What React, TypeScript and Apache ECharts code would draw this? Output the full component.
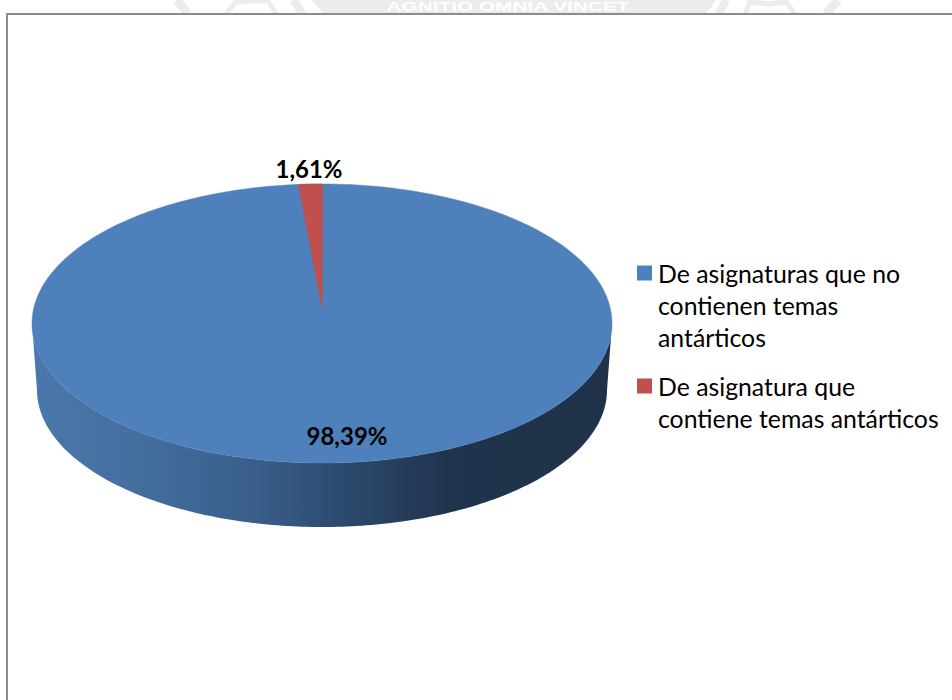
import React, { useEffect, useRef } from "react";
import * as echarts from "echarts";

const categories = [
  "De asignaturas que no contienen temas antárticos",
  "De asignatura que contiene temas antárticos",
];
const legendLines = [
  ["De asignaturas que no", "contienen temas", "antárticos"],
  ["De asignatura que", "contiene temas antárticos"],
];
const values = [98.39, 1.61];
const valueLabels = ["98,39%", "1,61%"];
const colors = ["#4e80bc", "#c0504d"];
const watermarkText = "AGNITIO OMNIA VINCET";

const FONT = "Lato, Carlito, Calibri, sans-serif";
const CX = 322;
const TOP_CY = 323.5;
const RX = 290;
const RY = 139.5;
const APEX_Y = 308;
const BOT_CY = 390;
const BOT_RX = 285;
const BOT_RY = 137;
const BACK_FORESHORTEN = 0.9;

const K = (TOP_CY + RY - APEX_Y - (APEX_Y - (TOP_CY - RY))) / (TOP_CY + RY - APEX_Y + (APEX_Y - (TOP_CY - RY)));
const B = (APEX_Y - (TOP_CY - RY)) * (1 + K);
const A = RX * Math.sqrt(1 - K * K);

// map an angle measured clockwise from the top of the disc onto the tilted disc
function project(theta: number): number[] {
  const u = Math.sin(theta);
  const v = Math.cos(theta);
  const d = 1 + K * v;
  return [CX + (A * u) / d, APEX_Y - (B * v) / d];
}

function sliceRange(index: number): [number, number] {
  const total = values.reduce((a, b) => a + b, 0);
  // the small slice ends at the top of the disc; the big one starts there
  if (index === 1) return [-(values[1] / total) * 2 * Math.PI * BACK_FORESHORTEN, 0.002];
  return [0, (values[0] / total) * 2 * Math.PI];
}

function renderSlice(index: number) {
  return () => {
    const [a0, a1] = sliceRange(index);
    const n = index === 0 ? 360 : 12;
    const pts: number[][] = [[CX, APEX_Y]];
    if (index === 0) {
      // whole disc outline, the small slice is drawn on top of it
      for (let i = 0; i <= n; i++) {
        const t = (i / n) * 2 * Math.PI;
        pts.push(project(t));
      }
    } else {
      for (let i = 0; i <= n; i++) pts.push(project(a0 + ((a1 - a0) * i) / n));
    }
    return {
      type: "polygon",
      shape: { points: pts },
      style: { fill: colors[index], stroke: colors[index], lineWidth: 0.5 },
    };
  };
}

function renderWall() {
  const pts: number[][] = [];
  for (let i = 0; i <= 180; i++) {
    const t = (i / 180) * Math.PI;
    pts.push([CX - RX * Math.cos(t), TOP_CY + RY * Math.sin(t)]);
  }
  for (let i = 180; i >= 0; i--) {
    const t = (i / 180) * Math.PI;
    pts.push([CX - BOT_RX * Math.cos(t), BOT_CY + BOT_RY * Math.sin(t)]);
  }
  return {
    type: "polygon",
    shape: { points: pts },
    style: {
      fill: new echarts.graphic.LinearGradient(0, 0, 1, 0, [
        { offset: 0, color: "#4a78ac" },
        { offset: 0.2, color: "#436d9d" },
        { offset: 0.4, color: "#385c87" },
        { offset: 0.55, color: "#2b486c" },
        { offset: 0.72, color: "#20344d" },
        { offset: 1, color: "#1f3249" },
      ]),
    },
  };
}

function legendFor(index: number, top: number) {
  const lines = legendLines[index];
  return {
    show: true,
    left: 637,
    top,
    padding: 0,
    orient: "vertical",
    selectedMode: false,
    data: [categories[index]],
    icon: "rect",
    itemWidth: 15,
    itemHeight: 15,
    itemGap: 0,
    formatter: () =>
      new Array(lines.length - 1).fill("").concat(lines).join("\n"),
    textStyle: {
      fontFamily: FONT,
      fontSize: 24.8,
      lineHeight: 32,
      color: "#000",
      padding: [0, 0, 0, 1],
    },
  };
}

const WM = "#ececec";
function wmLine(points: number[][], lineWidth: number) {
  return { type: "polyline", z: 0, shape: { points }, style: { stroke: WM, lineWidth, fill: "none" } };
}

export default function App() {
  const ref = useRef<HTMLDivElement>(null);
  useEffect(() => {
    document.body.style.margin = "0";
    const chart = echarts.init(ref.current!, undefined, { renderer: "svg" });
    chart.setOption({
      animation: false,
      backgroundColor: "#ffffff",
      legend: [legendFor(0, 193), legendFor(1, 338)],
      series: [
        { type: "custom", name: "wall", coordinateSystem: "none", silent: true, z: 1, data: [0], renderItem: renderWall, itemStyle: { color: "#2b486c" } },
        { type: "custom", name: categories[0], coordinateSystem: "none", silent: true, z: 2, data: [values[0]], renderItem: renderSlice(0), itemStyle: { color: colors[0] } },
        { type: "custom", name: categories[1], coordinateSystem: "none", silent: true, z: 3, data: [values[1]], renderItem: renderSlice(1), itemStyle: { color: colors[1] } },
      ],
      graphic: [
        { type: "polygon", z: 0, shape: { points: [[312, 0], [716, 0], [706, 14], [323, 14]] }, style: { fill: WM } },
        wmLine([[177, 0], [188, 14]], 9),
        wmLine([[293, 0], [303, 14]], 8),
        wmLine([[226, 14], [236, 2], [252, 1], [268, 1], [276, 14]], 5),
        wmLine([[726, 0], [719, 14]], 8),
        wmLine([[745, 14], [750, 2], [768, 4], [786, 2], [795, 14]], 5),
        wmLine([[838, 0], [826, 14]], 9),
        { type: "text", z: 0, x: 508, y: 7, scaleX: 1.6, style: { text: watermarkText, font: "bold 13px 'Liberation Sans Narrow', 'Liberation Sans', sans-serif", fill: "#ffffff", align: "center", verticalAlign: "middle" } },
        { type: "rect", z: 1, shape: { x: 7, y: 14, width: 960, height: 700 }, style: { fill: "#ffffff", stroke: "#8c8c8c", lineWidth: 2 } },
        { type: "text", z: 10, x: 309, y: 168, style: { text: valueLabels[1], font: "bold 24px " + FONT, fill: "#000", align: "center", verticalAlign: "middle" } },
        { type: "text", z: 10, x: 347, y: 435, style: { text: valueLabels[0], font: "bold 24px " + FONT, fill: "#000", align: "center", verticalAlign: "middle" } },
      ],
    });
    return () => chart.dispose();
  }, []);
  return <div ref={ref} style={{ position: "fixed", left: 0, top: 0, width: 952, height: 700 }} />;
}
